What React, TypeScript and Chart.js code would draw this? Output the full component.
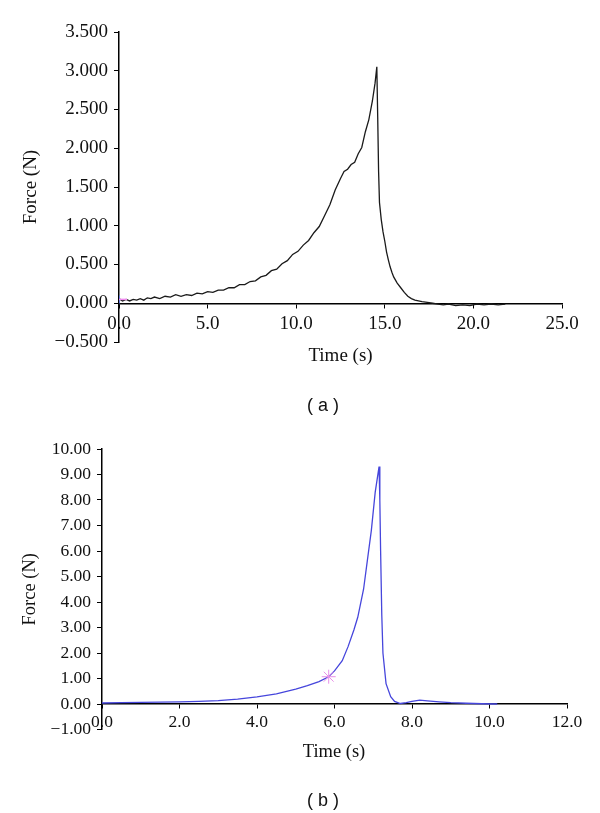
import React, { useEffect, useRef } from "react";
import { Chart, registerables } from "chart.js";

Chart.register(...registerables);

// ---------- Chart (a) data ----------
const timeA = [
  0.0, 0.2, 0.4, 0.6, 0.8, 1.0, 1.2, 1.4, 1.6, 1.8, 2.0, 2.3, 2.6, 2.9, 3.2, 3.5, 3.8, 4.1, 4.4, 4.7,
  5.0, 5.3, 5.6, 5.9, 6.2, 6.5, 6.8, 7.1, 7.4, 7.7, 8.0, 8.3, 8.6, 8.9, 9.2, 9.5, 9.8, 10.1, 10.4, 10.7,
  11.0, 11.3, 11.6, 11.9, 12.2, 12.5, 12.7, 12.9, 13.1, 13.3, 13.5, 13.7, 13.9, 14.1, 14.3, 14.45, 14.55,
  14.6, 14.65, 14.7, 14.8, 14.9, 15.0, 15.1, 15.2, 15.3, 15.4, 15.5, 15.7, 15.9, 16.1, 16.3, 16.5, 16.7,
  16.9, 17.1, 17.4, 17.7, 18.0, 18.3, 18.6, 19.0, 19.4, 19.8, 20.2, 20.6, 21.0, 21.4, 21.8,
];
const forceA = [
  0.06, 0.03, 0.05, 0.03, 0.05, 0.04, 0.06, 0.04, 0.07, 0.06, 0.08, 0.06, 0.09, 0.08, 0.11, 0.09, 0.11, 0.10, 0.13, 0.12,
  0.15, 0.14, 0.17, 0.17, 0.20, 0.20, 0.24, 0.24, 0.28, 0.29, 0.34, 0.36, 0.42, 0.44, 0.51, 0.55, 0.63, 0.67, 0.75, 0.81,
  0.91, 0.99, 1.13, 1.27, 1.46, 1.61, 1.70, 1.73, 1.79, 1.82, 1.93, 2.01, 2.21, 2.37, 2.61, 2.84, 3.05,
  2.40, 1.70, 1.30, 1.08, 0.92, 0.80, 0.66, 0.56, 0.47, 0.40, 0.34, 0.26, 0.20, 0.14, 0.09, 0.06, 0.04,
  0.03, 0.02, 0.01, 0.00, -0.01, -0.02, -0.01, -0.03, -0.02, -0.03, -0.01, -0.02, -0.01, -0.02, -0.01,
];
const markerATime = [0.0];
const markerAForce = [0.05];

// ---------- Chart (b) data ----------
const timeB = [
  0.0, 0.5, 1.0, 1.5, 2.0, 2.5, 3.0, 3.5, 4.0, 4.5, 5.0, 5.3, 5.6, 5.85, 6.0, 6.2, 6.35, 6.5, 6.6, 6.75,
  6.85, 6.95, 7.05, 7.15, 7.17, 7.19, 7.22, 7.25, 7.33, 7.45, 7.55, 7.7, 7.85, 8.0, 8.2, 8.4, 8.7, 9.0,
  9.4, 9.8, 10.2,
];
const forceB = [
  0.04, 0.05, 0.06, 0.07, 0.08, 0.10, 0.13, 0.19, 0.28, 0.40, 0.58, 0.72, 0.88, 1.07, 1.30, 1.70, 2.25, 2.90, 3.40, 4.50,
  5.65, 6.80, 8.30, 9.31, 8.00, 6.00, 3.50, 2.00, 0.80, 0.29, 0.10, 0.02, 0.05, 0.10, 0.15, 0.12, 0.08, 0.05,
  0.03, 0.01, 0.00,
];
const markerBTime = [5.85];
const markerBForce = [1.07];

// ---------- Axis ticks ----------
const yTicksA = { min: -0.5, max: 3.5, step: 0.5, decimals: 3 };
const xTicksA = { min: 0, max: 25, step: 5, decimals: 1 };
const yTicksB = { min: -1, max: 10, step: 1, decimals: 2 };
const xTicksB = { min: 0, max: 12, step: 2, decimals: 1 };

const SERIF = "'Liberation Serif', 'Times New Roman', serif";
const SANS = "'Liberation Sans', Arial, sans-serif";

function fmt(v: number, d: number): string {
  const s = Math.abs(v).toFixed(d);
  return v < -1e-9 ? "\u2212" + s : s;
}

function toPts(xs: number[], ys: number[]) {
  return xs.map((x, i) => ({ x, y: ys[i] }));
}

type Props = {
  top: number;
  height: number;
  times: number[];
  forces: number[];
  color: string;
  markers: any[];
  yT: { min: number; max: number; step: number; decimals: number };
  xT: { min: number; max: number; step: number; decimals: number };
  fontSize: number;
  titleSize: number;
  padding: { left: number; right: number; top: number; bottom: number };
  yAxisWidth: number;
  titlePad: number;
  xTickPad: number;
};

function ForceChart(p: Props) {
  const ref = useRef<HTMLCanvasElement | null>(null);
  useEffect(() => {
    if (!ref.current) return;
    const font = { family: SERIF, size: p.fontSize };
    const chart = new Chart(ref.current, {
      type: "line",
      data: {
        datasets: [
          ...p.markers,
          {
            data: toPts(p.times, p.forces),
            borderColor: p.color,
            borderWidth: 1.3,
            pointRadius: 0,
            tension: 0,
            fill: false,
          },
        ],
      },
      options: {
        animation: false,
        responsive: false,
        events: [],
        layout: { padding: p.padding },
        plugins: { legend: { display: false }, tooltip: { enabled: false } },
        scales: {
          x: {
            type: "linear",
            position: { y: 0 } as any,
            min: p.xT.min,
            max: p.xT.max,
            grid: {
              drawOnChartArea: false,
              drawTicks: true,
              tickLength: 4,
              tickColor: "#000",
              lineWidth: 1,
            },
            border: { display: true, color: "#000", width: 1.5 },
            ticks: {
              stepSize: p.xT.step,
              color: "#111",
              font,
              padding: p.xTickPad,
              maxRotation: 0,
              autoSkip: false,
              callback: (v: any) => fmt(Number(v), p.xT.decimals),
            },
          },
          y: {
            type: "linear",
            min: p.yT.min,
            max: p.yT.max,
            afterFit: (s: any) => {
              s.width = p.yAxisWidth;
            },
            grid: {
              drawOnChartArea: false,
              drawTicks: true,
              tickLength: 5,
              tickColor: "#000",
              lineWidth: 1,
            },
            border: { display: true, color: "#000", width: 1.5 },
            ticks: {
              stepSize: p.yT.step,
              color: "#111",
              font,
              padding: 6,
              autoSkip: false,
              callback: (v: any) => fmt(Number(v), p.yT.decimals),
            },
            title: {
              display: true,
              text: "Force (N)",
              color: "#111",
              font: { family: SERIF, size: p.titleSize },
              padding: { top: p.titlePad, bottom: 0 },
            },
          },
        },
      } as any,
    });
    return () => chart.destroy();
  }, []);
  return (
    <canvas
      ref={ref}
      width={600}
      height={p.height}
      style={{ position: "absolute", left: 0, top: p.top, width: 600, height: p.height }}
    />
  );
}

function Label(props: { x: number; y: number; text: string; font: string; size: number }) {
  return (
    <div
      style={{
        position: "absolute",
        left: props.x,
        top: props.y,
        transform: "translate(-50%, -50%)",
        fontFamily: props.font,
        fontSize: props.size,
        lineHeight: 1,
        color: "#111",
        whiteSpace: "nowrap",
      }}
    >
      {props.text}
    </div>
  );
}

export default function App() {
  const markersA = [
    {
      data: toPts(markerATime, markerAForce),
      showLine: false,
      pointStyle: "line",
      pointRadius: 8,
      pointBorderColor: "#f08cf0",
      pointBorderWidth: 1.5,
      borderColor: "#f08cf0",
    },
    {
      data: toPts(markerATime, markerAForce),
      showLine: false,
      pointStyle: "line",
      pointRotation: 90,
      pointRadius: 4,
      pointBorderColor: "#5b7cff",
      pointBorderWidth: 1.5,
      borderColor: "#5b7cff",
    },
  ];
  const markersB = [
    {
      data: toPts(markerBTime, markerBForce),
      showLine: false,
      pointStyle: "star",
      pointRadius: 7,
      pointBorderColor: "#e890e8",
      pointBorderWidth: 1,
      borderColor: "#e890e8",
    },
  ];
  return (
    <div style={{ position: "absolute", left: 0, top: 0, width: 600, height: 813, background: "#fff" }}>
      <ForceChart
        top={0}
        height={380}
        times={timeA}
        forces={forceA}
        color="#1a1a1a"
        markers={markersA}
        yT={yTicksA}
        xT={xTicksA}
        fontSize={19}
        titleSize={19}
        padding={{ left: 0, right: 38, top: 32, bottom: 38 }}
        yAxisWidth={119}
        titlePad={20}
        xTickPad={5}
      />
      <Label x={340.5} y={354} text="Time (s)" font={SERIF} size={19} />
      <Label x={323} y={405} text="( a )" font={SANS} size={18} />
      <ForceChart
        top={410}
        height={370}
        times={timeB}
        forces={forceB}
        color="#4646dc"
        markers={markersB}
        yT={yTicksB}
        xT={xTicksB}
        fontSize={17.5}
        titleSize={18.5}
        padding={{ left: 0, right: 33, top: 39, bottom: 50.5 }}
        yAxisWidth={102}
        titlePad={19}
        xTickPad={4}
      />
      <Label x={334} y={751} text="Time (s)" font={SERIF} size={18.5} />
      <Label x={323} y={800} text="( b )" font={SANS} size={18} />
    </div>
  );
}
